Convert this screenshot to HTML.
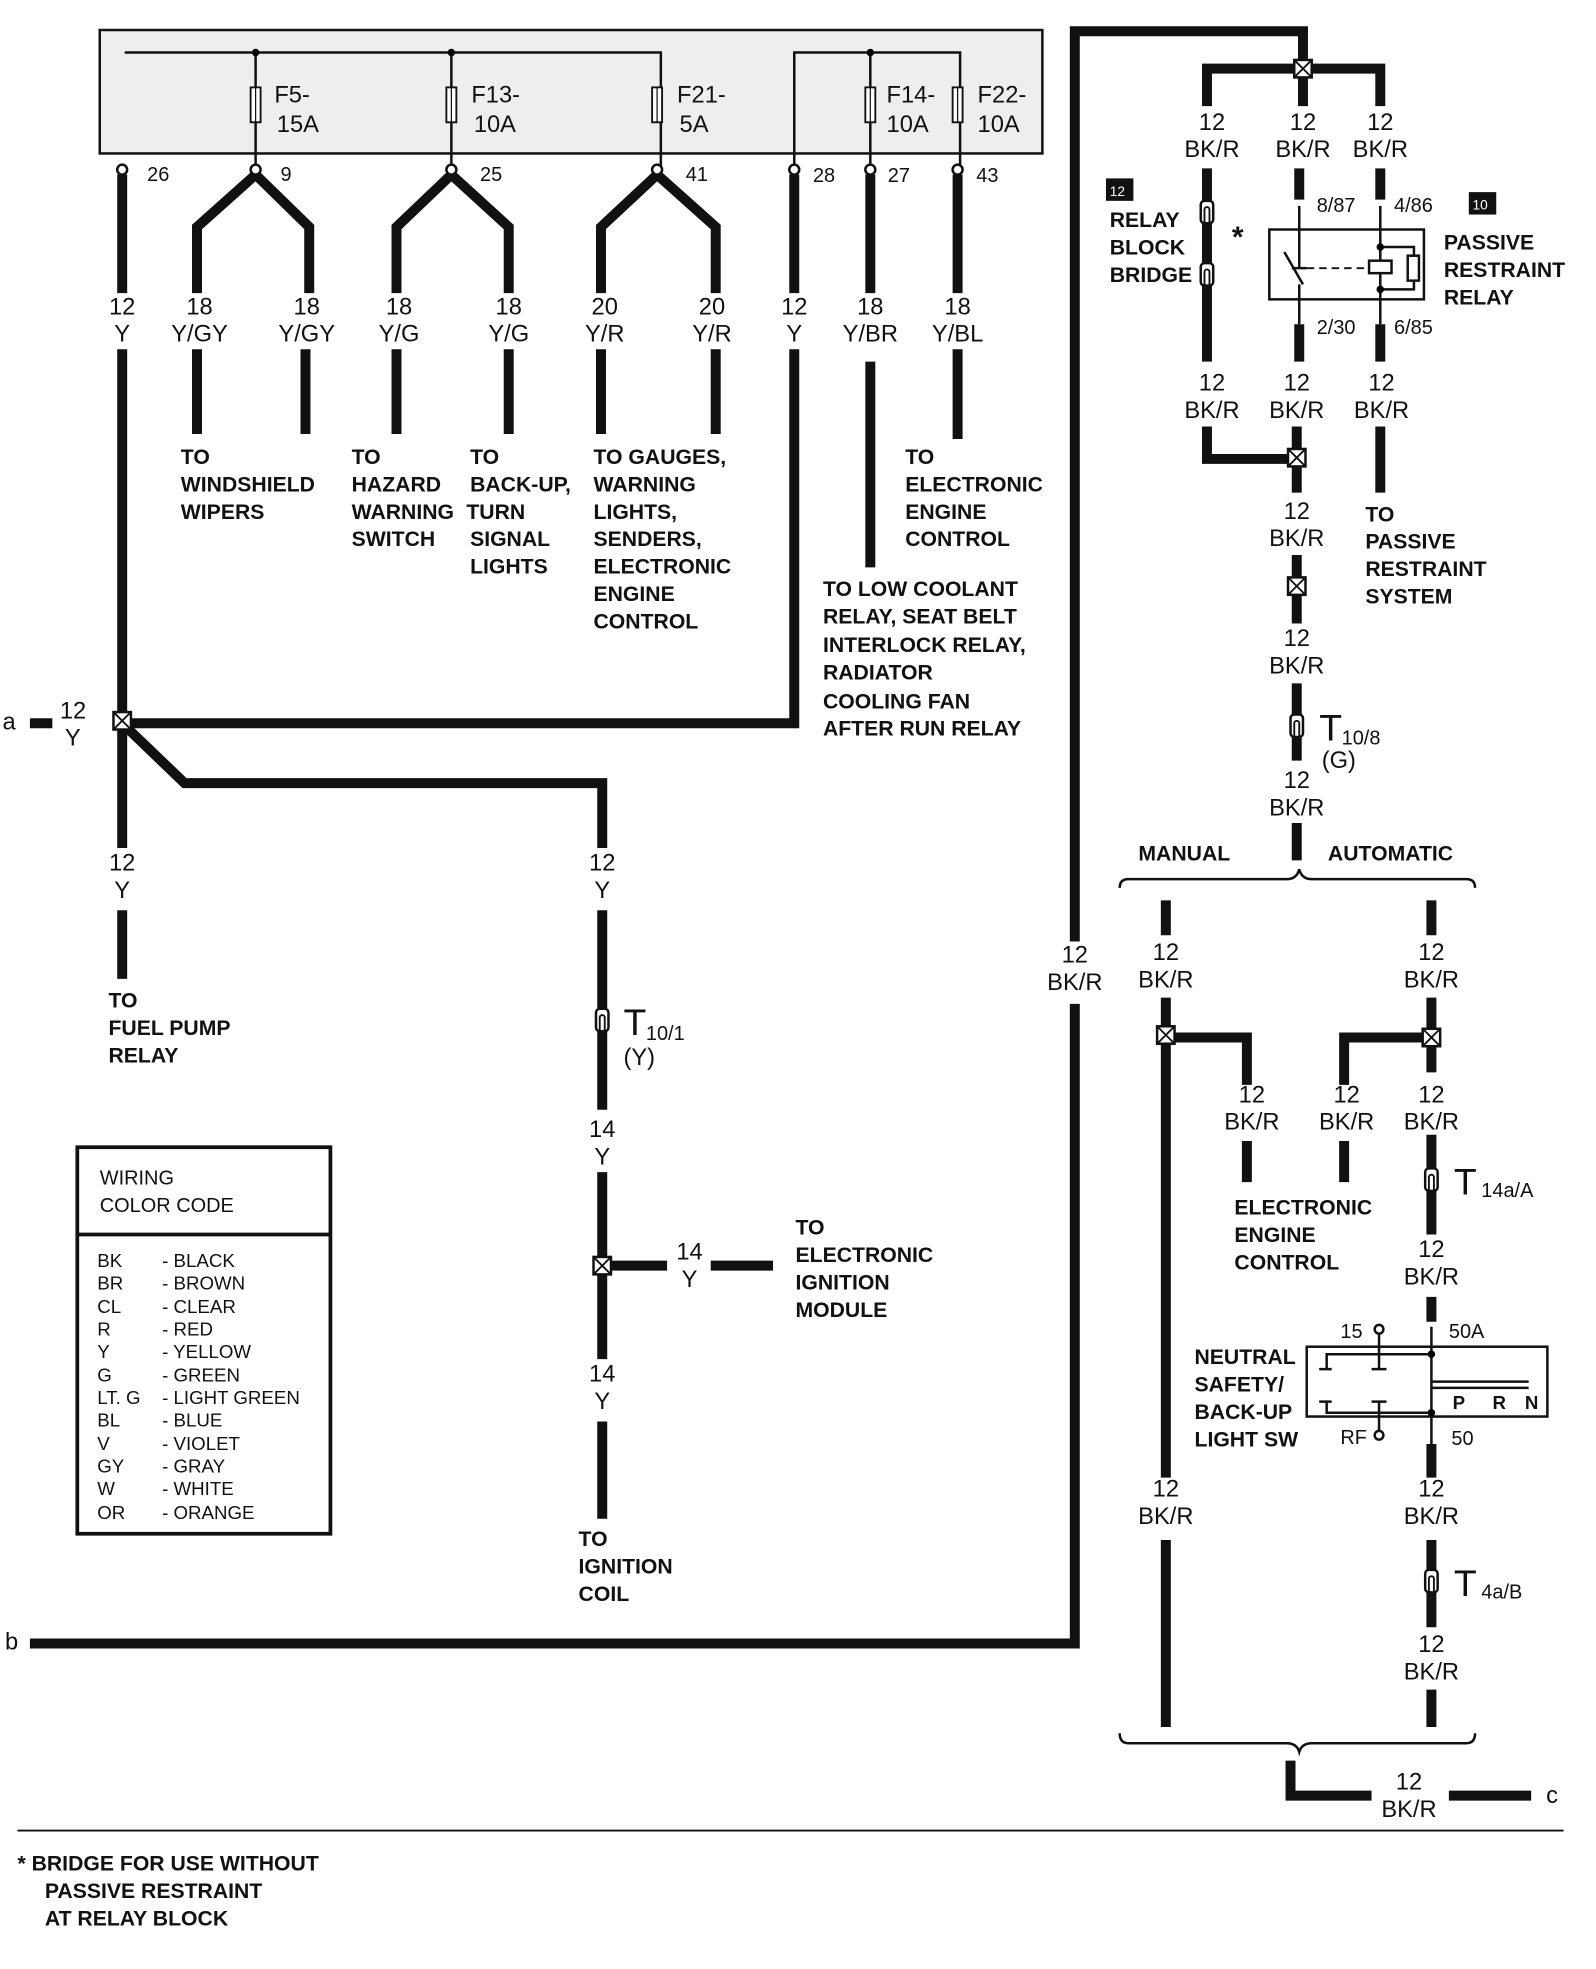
<!DOCTYPE html>
<html><head><meta charset="utf-8"><style>
html,body{margin:0;padding:0;background:#fff}
svg{display:block}
text{font-family:"Liberation Sans",sans-serif;fill:#111}
.w{stroke:#111;stroke-width:8;fill:none;stroke-linejoin:miter}
.t{stroke:#111;stroke-width:2;fill:none}
.lb{font-size:19px}
.b{font-size:17px;font-weight:bold}
.s{font-size:16px}
</style></head><body>
<svg width="1596" height="1969" viewBox="0 0 1280 1579" xmlns="http://www.w3.org/2000/svg">
<defs>
<g id="jx"><rect x="-7" y="-7" width="14" height="14" fill="#fff" stroke="#111" stroke-width="2"/><path d="M-7,-7L7,7M7,-7L-7,7" stroke="#111" stroke-width="1.5"/></g>
<g id="conn"><rect x="-5" y="-9" width="10" height="18" rx="3" fill="#fff" stroke="#111" stroke-width="2"/><path d="M-2,9V-2a2,2 0 0 1 4,0V9" stroke="#111" stroke-width="1.5" fill="none"/></g>
<g id="pin"><circle r="4" fill="#fff" stroke="#111" stroke-width="2"/></g>
<g id="fuse"><rect x="-4" y="-14" width="8" height="28" fill="#fff" stroke="#111" stroke-width="1.5"/><line x1="0" y1="-14" x2="0" y2="14" stroke="#111" stroke-width="1"/></g>
</defs>

<!-- fuse box -->
<rect x="80" y="24" width="756" height="99" fill="#eee" stroke="#111" stroke-width="2"/>
<path class="t" d="M100,42H530V135M205,42V135M362,42V135M637,135V42H770V135M698,42V135"/>
<circle cx="205" cy="42" r="3"/><circle cx="362" cy="42" r="3"/><circle cx="698" cy="42" r="3"/>
<use href="#fuse" x="205" y="84"/><use href="#fuse" x="362" y="84"/><use href="#fuse" x="527" y="84"/><use href="#fuse" x="698" y="84"/><use href="#fuse" x="768" y="84"/>
<text class="lb" x="220" y="82">F5-</text><text class="lb" x="222" y="106">15A</text>
<text class="lb" x="378" y="82">F13-</text><text class="lb" x="380" y="106">10A</text>
<text class="lb" x="543" y="82">F21-</text><text class="lb" x="545" y="106">5A</text>
<text class="lb" x="711" y="82">F14-</text><text class="lb" x="711" y="106">10A</text>
<text class="lb" x="784" y="82">F22-</text><text class="lb" x="784" y="106">10A</text>
<g class="s"><text x="118" y="145">26</text><text x="225" y="145">9</text><text x="385" y="145">25</text><text x="550" y="145">41</text><text x="652" y="146">28</text><text x="712" y="146">27</text><text x="783" y="146">43</text></g>

<!-- wires left -->
<path class="w" d="M98,140V235M98,280V580M98,580H637V280M637,235V140"/>
<path class="w" d="M158,235V182L205,140L248,182V235M318,235V182L362,140L408,182V235M482,235V182L527,140L574,182V235"/>
<path class="w" d="M698,140V235M768,140V235"/>
<path class="w" d="M158,280V348M245,280V348M318,280V348M408,280V348M482,280V348M574,280V348M698,290V455M768,280V352"/>
<g class="lb" text-anchor="middle">
<text x="98" y="252">12</text><text x="98" y="274">Y</text>
<text x="160" y="252">18</text><text x="160" y="274">Y/GY</text>
<text x="246" y="252">18</text><text x="246" y="274">Y/GY</text>
<text x="320" y="252">18</text><text x="320" y="274">Y/G</text>
<text x="408" y="252">18</text><text x="408" y="274">Y/G</text>
<text x="485" y="252">20</text><text x="485" y="274">Y/R</text>
<text x="571" y="252">20</text><text x="571" y="274">Y/R</text>
<text x="637" y="252">12</text><text x="637" y="274">Y</text>
<text x="698" y="252">18</text><text x="698" y="274">Y/BR</text>
<text x="768" y="252">18</text><text x="768" y="274">Y/BL</text>
</g>
<use href="#pin" x="98" y="136"/><use href="#pin" x="205" y="136"/><use href="#pin" x="362" y="136"/><use href="#pin" x="527" y="136"/><use href="#pin" x="637" y="136"/><use href="#pin" x="698" y="136"/><use href="#pin" x="768" y="136"/>
<g class="b">
<text x="145" y="372">TO</text><text x="145" y="394">WINDSHIELD</text><text x="145" y="416">WIPERS</text>
<text x="282" y="372">TO</text><text x="282" y="394">HAZARD</text><text x="282" y="416">WARNING</text><text x="282" y="438">SWITCH</text>
<text x="377" y="372">TO</text><text x="377" y="394">BACK-UP,</text><text x="374" y="416">TURN</text><text x="377" y="438">SIGNAL</text><text x="377" y="460">LIGHTS</text>
<text x="476" y="372">TO GAUGES,</text><text x="476" y="394">WARNING</text><text x="476" y="416">LIGHTS,</text><text x="476" y="438">SENDERS,</text><text x="476" y="460">ELECTRONIC</text><text x="476" y="482">ENGINE</text><text x="476" y="504">CONTROL</text>
<text x="726" y="372">TO</text><text x="726" y="394">ELECTRONIC</text><text x="726" y="416">ENGINE</text><text x="726" y="438">CONTROL</text>
<text x="660" y="478">TO LOW COOLANT</text><text x="660" y="500">RELAY, SEAT BELT</text><text x="660" y="523">INTERLOCK RELAY,</text><text x="660" y="545">RADIATOR</text><text x="660" y="568">COOLING FAN</text><text x="660" y="590">AFTER RUN RELAY</text>
</g>

<!-- a junction -->
<text class="lb" x="2" y="585">a</text>
<path class="w" d="M24,580H42"/>
<text class="lb" x="48" y="576">12</text><text class="lb" x="52" y="598">Y</text>
<path class="w" d="M98,580V680M98,730V785M98,580L148,628H483V680M483,730V890M483,940V1090M483,1140V1218M483,1015H535M570,1015H620"/>
<use href="#jx" x="98" y="578"/>
<g class="lb" text-anchor="middle">
<text x="98" y="698">12</text><text x="98" y="720">Y</text>
<text x="483" y="698">12</text><text x="483" y="720">Y</text>
<text x="483" y="912">14</text><text x="483" y="934">Y</text>
<text x="553" y="1010">14</text><text x="553" y="1032">Y</text>
<text x="483" y="1108">14</text><text x="483" y="1130">Y</text>
</g>
<use href="#conn" x="483" y="818"/>
<text x="500" y="830" style="font-size:30px">T</text><text class="s" x="518" y="834">10/1</text><text class="lb" x="500" y="854">(Y)</text>
<use href="#jx" x="483" y="1015"/>
<g class="b">
<text x="87" y="808">TO</text><text x="87" y="830">FUEL PUMP</text><text x="87" y="852">RELAY</text>
<text x="638" y="990">TO</text><text x="638" y="1012">ELECTRONIC</text><text x="638" y="1034">IGNITION</text><text x="638" y="1056">MODULE</text>
<text x="464" y="1240">TO</text><text x="464" y="1262">IGNITION</text><text x="464" y="1284">COIL</text>
</g>

<!-- color code -->
<rect x="62" y="920" width="203" height="310" fill="#fff" stroke="#111" stroke-width="3"/>
<line x1="62" y1="990" x2="265" y2="990" stroke="#111" stroke-width="3"/>
<text class="s" x="80" y="950">WIRING</text><text class="s" x="80" y="972">COLOR CODE</text>
<g class="s" style="font-size:15px">
<text x="78" y="1016">BK</text><text x="130" y="1016">- BLACK</text>
<text x="78" y="1034">BR</text><text x="130" y="1034">- BROWN</text>
<text x="78" y="1053">CL</text><text x="130" y="1053">- CLEAR</text>
<text x="78" y="1071">R</text><text x="130" y="1071">- RED</text>
<text x="78" y="1089">Y</text><text x="130" y="1089">- YELLOW</text>
<text x="78" y="1108">G</text><text x="130" y="1108">- GREEN</text>
<text x="78" y="1126">LT. G</text><text x="130" y="1126">- LIGHT GREEN</text>
<text x="78" y="1144">BL</text><text x="130" y="1144">- BLUE</text>
<text x="78" y="1163">V</text><text x="130" y="1163">- VIOLET</text>
<text x="78" y="1181">GY</text><text x="130" y="1181">- GRAY</text>
<text x="78" y="1199">W</text><text x="130" y="1199">- WHITE</text>
<text x="78" y="1218">OR</text><text x="130" y="1218">- ORANGE</text>
</g>

<!-- b line -->
<text class="lb" x="4" y="1323">b</text>
<path class="w" d="M24,1318H862V805M862,755V25H1045V55"/>
<text class="lb" x="862" y="772" text-anchor="middle">12</text><text class="lb" x="862" y="794" text-anchor="middle">BK/R</text>

<!-- relay section -->
<path class="w" d="M968,85V55H1107V85M1045,55V85"/>
<use href="#jx" x="1045" y="55"/>
<g class="lb" text-anchor="middle">
<text x="972" y="104">12</text><text x="972" y="126">BK/R</text>
<text x="1045" y="104">12</text><text x="1045" y="126">BK/R</text>
<text x="1107" y="104">12</text><text x="1107" y="126">BK/R</text>
</g>
<path class="w" d="M968,135V290M1042,135V160M1107,135V160M1042,260V290M1107,260V290"/>
<use href="#conn" x="968" y="170"/><use href="#conn" x="968" y="220"/>
<rect x="887" y="143" width="22" height="18" fill="#111"/><text x="890" y="157" style="font-size:11px;fill:#fff">12</text>
<text class="b" x="890" y="182">RELAY</text><text class="b" x="890" y="204">BLOCK</text><text class="b" x="890" y="226">BRIDGE</text>
<text x="988" y="198" style="font-size:24px;font-weight:bold">*</text>
<rect x="1018" y="184" width="124" height="56" fill="#fff" stroke="#111" stroke-width="2"/>
<path class="t" d="M1042,165V215M1036,215H1048M1030,202L1045,228M1042,228V260M1107,165V260M1107,198H1134V232H1107"/>
<path d="M1048,215H1098" stroke="#111" stroke-width="1.5" stroke-dasharray="6,4"/>
<rect x="1098" y="209" width="18" height="10" fill="#fff" stroke="#111" stroke-width="2"/>
<rect x="1129" y="205" width="9" height="20" fill="#fff" stroke="#111" stroke-width="2"/>
<circle cx="1107" cy="198" r="3"/><circle cx="1107" cy="232" r="3"/>
<g class="s"><text x="1056" y="170">8/87</text><text x="1118" y="170">4/86</text><text x="1056" y="268">2/30</text><text x="1118" y="268">6/85</text></g>
<rect x="1178" y="154" width="22" height="18" fill="#111"/><text x="1181" y="168" style="font-size:11px;fill:#fff">10</text>
<text class="b" x="1158" y="200">PASSIVE</text><text class="b" x="1158" y="222">RESTRAINT</text><text class="b" x="1158" y="244">RELAY</text>
<g class="lb" text-anchor="middle">
<text x="972" y="313">12</text><text x="972" y="335">BK/R</text>
<text x="1040" y="313">12</text><text x="1040" y="335">BK/R</text>
<text x="1108" y="313">12</text><text x="1108" y="335">BK/R</text>
<text x="1040" y="416">12</text><text x="1040" y="438">BK/R</text>
<text x="1040" y="518">12</text><text x="1040" y="540">BK/R</text>
<text x="1040" y="632">12</text><text x="1040" y="654">BK/R</text>
</g>
<path class="w" d="M968,342V368H1040M1040,342V395M1040,445V500M1040,548V610M1040,660V690M1107,342V395"/>
<use href="#jx" x="1040" y="367"/><use href="#jx" x="1040" y="470"/>
<use href="#conn" x="1040" y="582"/>
<text x="1058" y="594" style="font-size:30px">T</text><text class="s" x="1076" y="597">10/8</text><text class="lb" x="1060" y="616">(G)</text>
<g class="b">
<text x="913" y="690">MANUAL</text><text x="1065" y="690">AUTOMATIC</text>
<text x="1095" y="418">TO</text><text x="1095" y="440">PASSIVE</text><text x="1095" y="462">RESTRAINT</text><text x="1095" y="484">SYSTEM</text>
</g>
<!-- brace -->
<path class="t" d="M898,712Q898,705 905,705H1032Q1040,705 1042,697Q1044,705 1052,705H1176Q1183,705 1183,712"/>
<path class="t" d="M898,1390Q898,1398 905,1398H1032Q1040,1398 1042,1405Q1044,1398 1052,1398H1176Q1183,1398 1183,1390"/>

<path class="w" d="M935,722V750M1148,722V750M935,800V1185M1148,800V860M1148,910V990M1148,1040V1060M1148,1158V1185M1148,1235V1305M1148,1355V1385M935,1235V1385"/>
<path class="w" d="M935,832H1000V870M1148,832H1078V870M1000,915V948M1078,915V948"/>
<use href="#jx" x="935" y="830"/><use href="#jx" x="1148" y="832"/>
<g class="lb" text-anchor="middle">
<text x="935" y="770">12</text><text x="935" y="792">BK/R</text>
<text x="1148" y="770">12</text><text x="1148" y="792">BK/R</text>
<text x="1004" y="884">12</text><text x="1004" y="906">BK/R</text>
<text x="1080" y="884">12</text><text x="1080" y="906">BK/R</text>
<text x="1148" y="884">12</text><text x="1148" y="906">BK/R</text>
<text x="1148" y="1008">12</text><text x="1148" y="1030">BK/R</text>
<text x="935" y="1200">12</text><text x="935" y="1222">BK/R</text>
<text x="1148" y="1200">12</text><text x="1148" y="1222">BK/R</text>
<text x="1148" y="1325">12</text><text x="1148" y="1347">BK/R</text>
<text x="1130" y="1435">12</text><text x="1130" y="1457">BK/R</text>
</g>
<use href="#conn" x="1148" y="946"/>
<text x="1166" y="958" style="font-size:30px">T</text><text class="s" x="1188" y="960">14a/A</text>
<use href="#conn" x="1148" y="1268"/>
<text x="1166" y="1280" style="font-size:30px">T</text><text class="s" x="1188" y="1282">4a/B</text>
<g class="b"><text x="990" y="974">ELECTRONIC</text><text x="990" y="996">ENGINE</text><text x="990" y="1018">CONTROL</text>
<text x="958" y="1094">NEUTRAL</text><text x="958" y="1116">SAFETY/</text><text x="958" y="1138">BACK-UP</text><text x="958" y="1160">LIGHT SW</text></g>
<!-- switch -->
<rect x="1048" y="1080" width="193" height="56" fill="#fff" stroke="#111" stroke-width="2"/>
<path class="t" d="M1148,1064V1158M1106,1068V1098M1100,1098H1112M1106,1124V1150M1100,1124H1112M1064,1098V1086H1148M1064,1124V1133H1148M1058,1098H1068M1058,1124H1068M1148,1108H1226M1148,1113H1226"/>
<circle cx="1106" cy="1066" r="3.5" fill="#fff" stroke="#111" stroke-width="2"/><circle cx="1106" cy="1151" r="3.5" fill="#fff" stroke="#111" stroke-width="2"/>
<circle cx="1148" cy="1086" r="3"/><circle cx="1148" cy="1133" r="3"/>
<g class="s"><text x="1075" y="1073">15</text><text x="1162" y="1073">50A</text><text x="1075" y="1158">RF</text><text x="1164" y="1159">50</text></g>
<g class="b" style="font-size:15px"><text x="1165" y="1130">P</text><text x="1197" y="1130">R</text><text x="1223" y="1130">N</text></g>
<path class="w" d="M1035,1412V1440H1100M1162,1440H1228"/>
<text class="lb" x="1240" y="1446">c</text>

<line x1="14" y1="1468" x2="1254" y2="1468" stroke="#111" stroke-width="1.5"/>
<g class="b"><text x="14" y="1500">* BRIDGE FOR USE WITHOUT</text><text x="36" y="1522">PASSIVE RESTRAINT</text><text x="36" y="1544">AT RELAY BLOCK</text></g>
</svg>
</body></html>
